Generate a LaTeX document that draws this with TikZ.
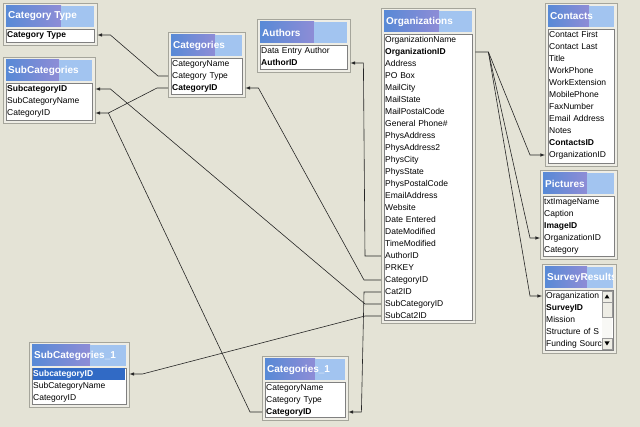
\documentclass[tikz,border=0pt]{standalone}
\usepackage{fontspec}
\newfontfamily\tablefont{Liberation Sans}
\newcommand\tblrow{\tablefont\fontsize{8.5}{10}\selectfont}
\newcommand\tblhead{\tablefont\bfseries\fontsize{10}{12}\selectfont}
\definecolor{canvas}{RGB}{228,227,214}
\definecolor{framecol}{RGB}{238,237,229}
\definecolor{framedark}{RGB}{165,165,155}
\definecolor{tblue}{RGB}{88,138,214}
\definecolor{tpurple}{RGB}{142,140,214}
\definecolor{tlight}{RGB}{162,196,240}
\definecolor{selblue}{RGB}{49,106,197}
\begin{document}
\begin{tikzpicture}[x=1pt,y=-1pt,
		tframe/.style={fill=framecol, draw=framedark, line width=0.8pt},
		tbar/.style={left color=tblue, right color=tpurple},
		tfield/.style={fill=white, draw=gray, line width=0.6pt},
		ttitle/.style={anchor=west, inner sep=0pt, text=white, font=\tblhead},
		field/.style={anchor=west, inner xsep=4pt, inner ysep=0pt, text width=#1, align=left, font=\tblrow, text height=6.5pt, text depth=2pt},
		key/.style={font=\tblrow\bfseries},
		btn/.style={fill=framecol, draw=gray!80, line width=0.5pt},
		rel/.style={draw=black!85, line width=0.6pt}]
		\useasboundingbox (0,0) rectangle (640,427);
		\fill[canvas] (0,0) rectangle (640,427);

		% Category Type
		\draw[tframe] (3,3) rectangle (97,45);
		\shade[tbar] (6,6) rectangle (61,27);
		\fill[tlight] (61,6) rectangle (94,27);
		\draw[tfield] (6,29) rectangle (94,42);
		\node[ttitle] (ct-title) at (8,16.5) {Category Type};
		\node[field=86pt, key] (ct-type) at (3,35) {Category Type};

		% SubCategories
		\draw[tframe] (3,57) rectangle (95,123);
		\shade[tbar] (6,60) rectangle (59,81);
		\fill[tlight] (59,60) rectangle (92,81);
		\draw[tfield] (6,83) rectangle (92,120);
		\node[ttitle] (sub-title) at (8,70.5) {SubCategories};
		\node[field=84pt, key] (sub-id) at (3,89) {SubcategoryID};
		\node[field=84pt] (sub-name) at (3,101) {SubCategoryName};
		\node[field=84pt] (sub-catid) at (3,113) {CategoryID};

		% Categories
		\draw[tframe] (168,32) rectangle (245,97);
		\shade[tbar] (171,35) rectangle (215,56);
		\fill[tlight] (215,35) rectangle (242,56);
		\draw[tfield] (171,58) rectangle (242,94);
		\node[ttitle] (cat-title) at (173,45.5) {Categories};
		\node[field=69pt] (cat-name) at (168,64) {CategoryName};
		\node[field=69pt] (cat-type) at (168,76) {Category Type};
		\node[field=69pt, key] (cat-id) at (168,88) {CategoryID};

		% Authors
		\draw[tframe] (257,19) rectangle (350,72);
		\shade[tbar] (260,22) rectangle (314,43);
		\fill[tlight] (314,22) rectangle (347,43);
		\draw[tfield] (260,45) rectangle (347,69);
		\node[ttitle] (auth-title) at (262,32.5) {Authors};
		\node[field=85pt] (auth-name) at (257,51) {Data Entry Author};
		\node[field=85pt, key] (auth-id) at (257,63) {AuthorID};

		% Organizations
		\draw[tframe] (381,8) rectangle (475,323);
		\shade[tbar] (384,11) rectangle (439,32);
		\fill[tlight] (439,11) rectangle (472,32);
		\draw[tfield] (384,34) rectangle (472,320);
		\node[ttitle] (org-title) at (386,21.5) {Organizations};
		\node[field=86pt] (org-name) at (381,40) {OrganizationName};
		\node[field=86pt, key] (org-orgid) at (381,52) {OrganizationID};
		\node[field=86pt] (org-address) at (381,64) {Address};
		\node[field=86pt] (org-pobox) at (381,76) {PO Box};
		\node[field=86pt] (org-mailcity) at (381,88) {MailCity};
		\node[field=86pt] (org-mailstate) at (381,100) {MailState};
		\node[field=86pt] (org-mailcode) at (381,112) {MailPostalCode};
		\node[field=86pt] (org-phone) at (381,124) {General Phone\#};
		\node[field=86pt] (org-physaddr) at (381,136) {PhysAddress};
		\node[field=86pt] (org-physaddr2) at (381,148) {PhysAddress2};
		\node[field=86pt] (org-physcity) at (381,160) {PhysCity};
		\node[field=86pt] (org-physstate) at (381,172) {PhysState};
		\node[field=86pt] (org-physcode) at (381,184) {PhysPostalCode};
		\node[field=86pt] (org-email) at (381,196) {EmailAddress};
		\node[field=86pt] (org-web) at (381,208) {Website};
		\node[field=86pt] (org-entered) at (381,220) {Date Entered};
		\node[field=86pt] (org-datemod) at (381,232) {DateModified};
		\node[field=86pt] (org-timemod) at (381,244) {TimeModified};
		\node[field=86pt] (org-authorid) at (381,256) {AuthorID};
		\node[field=86pt] (org-prkey) at (381,268) {PRKEY};
		\node[field=86pt] (org-catid) at (381,280) {CategoryID};
		\node[field=86pt] (org-cat2id) at (381,292) {Cat2ID};
		\node[field=86pt] (org-subcatid) at (381,304) {SubCategoryID};
		\node[field=86pt] (org-subcat2id) at (381,316) {SubCat2ID};

		% Contacts
		\draw[tframe] (545,3) rectangle (617,166);
		\shade[tbar] (548,6) rectangle (589,27);
		\fill[tlight] (589,6) rectangle (614,27);
		\draw[tfield] (548,29) rectangle (614,163);
		\node[ttitle] (cont-title) at (550,16.5) {Contacts};
		\node[field=64pt] (cont-first) at (545,35) {Contact First};
		\node[field=64pt] (cont-last) at (545,47) {Contact Last};
		\node[field=64pt] (cont-title2) at (545,59) {Title};
		\node[field=64pt] (cont-work) at (545,71) {WorkPhone};
		\node[field=64pt] (cont-ext) at (545,83) {WorkExtension};
		\node[field=64pt] (cont-mobile) at (545,95) {MobilePhone};
		\node[field=64pt] (cont-fax) at (545,107) {FaxNumber};
		\node[field=64pt] (cont-email) at (545,119) {Email Address};
		\node[field=64pt] (cont-notes) at (545,131) {Notes};
		\node[field=64pt, key] (cont-id) at (545,143) {ContactsID};
		\node[field=64pt] (cont-orgid) at (545,155) {OrganizationID};

		% Pictures
		\draw[tframe] (540,170) rectangle (617,259);
		\shade[tbar] (543,173) rectangle (587,194);
		\fill[tlight] (587,173) rectangle (614,194);
		\draw[tfield] (543,196) rectangle (614,256);
		\node[ttitle] (pic-title) at (545,183.5) {Pictures};
		\node[field=69pt] (pic-name) at (540,202) {txtImageName};
		\node[field=69pt] (pic-caption) at (540,214) {Caption};
		\node[field=69pt, key] (pic-id) at (540,226) {ImageID};
		\node[field=69pt] (pic-orgid) at (540,238) {OrganizationID};
		\node[field=69pt] (pic-cat) at (540,250) {Category};

		% SurveyResults
		\draw[tframe] (542,264) rectangle (616,353);
		\shade[tbar] (545,267) rectangle (587,288);
		\fill[tlight] (587,267) rectangle (613,288);
		\draw[tfield] (545,290) rectangle (613,350);
		\begin{scope}
			\clip (545,267) rectangle (613,288);
			\node[ttitle] (surv-title) at (547,277.5) {SurveyResults};
		\end{scope}
		\begin{scope}
			\clip (545,290) rectangle (601,350);
			\node[field=60pt] (surv-org) at (542,296) {Oraganization};
			\node[field=60pt, key] (surv-id) at (542,308) {SurveyID};
			\node[field=60pt] (surv-mission) at (542,320) {Mission};
			\node[field=60pt] (surv-staff) at (542,332) {Structure of S};
			\node[field=60pt] (surv-funding) at (542,344) {Funding Sourc};
		\end{scope}
		\fill[white!60!framecol] (602,291) rectangle (612,349);
		\draw[btn] (602,291) rectangle (612,302);
		\draw[btn] (602,302) rectangle (612,317);
		\draw[btn] (602,338) rectangle (612,349);
		\fill (607,294.5) -- (604.5,298.5) -- (609.5,298.5) -- cycle;
		\fill (607,345.5) -- (604.5,341.5) -- (609.5,341.5) -- cycle;

		% SubCategories_1
		\draw[tframe] (29,342) rectangle (129,407);
		\shade[tbar] (32,345) rectangle (90,366);
		\fill[tlight] (90,345) rectangle (126,366);
		\draw[tfield] (32,368) rectangle (126,404);
		\fill[selblue] (33,368.5) rectangle (125,380);
		\node[ttitle] (sub1-title) at (34,355.5) {SubCategories\_1};
		\node[field=92pt, key, text=white] (sub1-id) at (29,374) {SubcategoryID};
		\node[field=92pt] (sub1-name) at (29,386) {SubCategoryName};
		\node[field=92pt] (sub1-catid) at (29,398) {CategoryID};

		% Categories_1
		\draw[tframe] (262,356) rectangle (348,420);
		\shade[tbar] (265,359) rectangle (315,380);
		\fill[tlight] (315,359) rectangle (345,380);
		\draw[tfield] (265,382) rectangle (345,417);
		\node[ttitle] (cat1-title) at (267,369.5) {Categories\_1};
		\node[field=78pt] (cat1-name) at (262,388) {CategoryName};
		\node[field=78pt] (cat1-type) at (262,400) {Category Type};
		\node[field=78pt, key] (cat1-id) at (262,412) {CategoryID};

		% relationships
		\draw[rel, latex-] (ct-type.east) -- ++(13,0) -- ([xshift=-10pt]cat-type.west) -- (cat-type.west);
		\draw[rel, latex-] (sub-catid.east) -- ++(13,0) coordinate (sub-fork) -- ([xshift=-11pt]cat-id.west) -- (cat-id.west);
		\draw[rel] (sub-fork) -- ([xshift=-12pt]cat1-id.west) -- (cat1-id.west);
		\draw[rel, latex-] (sub-id.east) -- ++(15,0) -- ([xshift=-16pt]org-subcatid.west) -- (org-subcatid.west);
		\draw[rel, latex-] (cat-id.east) -- ++(13,0) -- ([xshift=-17pt]org-catid.west) -- (org-catid.west);
		\draw[rel, latex-] (auth-id.east) -- ++(13,0) -- ([xshift=-16pt]org-authorid.west) -- (org-authorid.west);
		\draw[rel, latex-] (cat1-id.east) -- ++(13,0) -- ([xshift=-17pt]org-cat2id.west) -- (org-cat2id.west);
		\draw[rel, latex-] (sub1-id.east) -- ++(13,0) -- ([xshift=-16pt]org-subcat2id.west) -- (org-subcat2id.west);
		\draw[rel, -latex] (org-orgid.east) -- ++(13,0) coordinate (org-fork) -- ([xshift=-15pt]cont-orgid.west) -- (cont-orgid.west);
		\draw[rel, -latex] (org-fork) -- ([xshift=-10pt]pic-orgid.west) -- (pic-orgid.west);
		\draw[rel, -latex] (org-fork) -- ([xshift=-12pt]surv-org.west) -- (surv-org.west);
	\end{tikzpicture}
\end{document}
